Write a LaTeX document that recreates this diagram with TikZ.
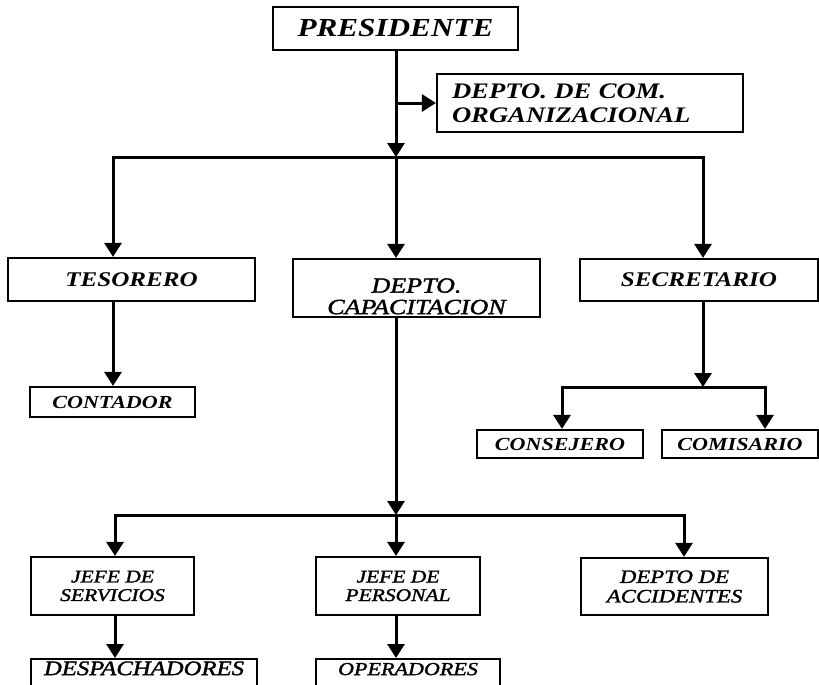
\documentclass[tikz,border=0pt]{standalone}
\usepackage{fontspec}
\setmainfont{Liberation Serif}[FakeStretch=1.2]
\newfontfamily\midfont{Liberation Serif}[FakeStretch=1.2, FakeBold=1.6]
\usetikzlibrary{arrows.meta}

\begin{document}
\begin{tikzpicture}[x=1pt, y=-1pt,
    box/.style={draw, line width=2.2pt, inner sep=0pt, align=center},
    boss/.style={box, font=\fontsize{26}{28}\selectfont\bfseries\itshape},
    chief/.style={box, font=\fontsize{20.9}{23}\selectfont\bfseries\itshape},
    aide/.style={box, font=\fontsize{18.4}{20}\selectfont\bfseries\itshape},
    dept/.style={box, font=\fontsize{21.7}{21.5}\selectfont\midfont\itshape},
    head/.style={box, font=\fontsize{17.9}{18.5}\selectfont\midfont\itshape},
    crew/.style={box, font=\fontsize{18.4}{20}\selectfont\midfont\itshape, anchor=north, inner ysep=4pt, text height=12pt, text depth=26pt},
    link/.style={line width=3pt},
    arr/.style={link, -{Triangle[width=17pt, length=14pt]}}]
    \useasboundingbox (0,0) rectangle (819,685);
    \clip (0,0) rectangle (819,685);

    \node[boss, minimum width=245pt, minimum height=43pt] (pres) at (395.5,28.5) {PRESIDENTE};
    \node[chief, font=\fontsize{22.2}{24}\selectfont\bfseries\itshape, align=left, text width=276pt, inner xsep=15pt, minimum height=58pt] (com) at (590,103) {DEPTO. DE COM.\\ORGANIZACIONAL};

    \node[chief, minimum width=247pt, minimum height=43pt] (tes) at (131.5,279.5) {TESORERO};
    \node[dept, minimum width=247pt, minimum height=58pt] (cap) at (416.5,288) {\rule{0pt}{31pt}DEPTO.\\CAPACITACION};
    \node[chief, minimum width=238pt, minimum height=42pt] (sec) at (699,280) {SECRETARIO};

    \node[aide, minimum width=165pt, minimum height=30pt] (cont) at (112.5,402) {CONTADOR};
    \node[aide, minimum width=166pt, minimum height=28pt] (cons) at (560,444) {CONSEJERO};
    \node[aide, minimum width=156pt, minimum height=28pt] (comi) at (740,444) {COMISARIO};

    \node[head, minimum width=163pt, minimum height=58pt] (jserv) at (112.5,586) {JEFE DE\\SERVICIOS};
    \node[head, minimum width=164pt, minimum height=58pt] (jpers) at (398,586) {JEFE DE\\PERSONAL};
    \node[head, font=\fontsize{19}{19.5}\selectfont\midfont\itshape, minimum width=187pt, minimum height=57pt] (acc) at (674.5,586.5) {DEPTO DE\\ACCIDENTES};

    \node[crew, font=\fontsize{20.6}{22}\selectfont\midfont\itshape, minimum width=226pt] (desp) at (144,658) {DESPACHADORES};
    \node[crew, minimum width=184pt] (oper) at (408,658) {OPERADORES};

    \coordinate (j1) at (396,157);
    \coordinate (busL) at (113,157);
    \coordinate (busR) at (703,157);
    \coordinate (j3) at (703,387);
    \coordinate (j3L) at (562,387);
    \coordinate (j3R) at (765,387);
    \coordinate (j2) at (396,515);
    \coordinate (j2L) at (115,515);
    \coordinate (j2R) at (684,515);

    \draw[arr] (pres.south -| j1) -- (j1);
    \draw[arr] (j1 |- com.west) -- (com.west);
    \draw[link, line cap=rect] (busL) -- (busR);
    \draw[link, line cap=rect] (j3L) -- (j3R);
    \draw[link, line cap=rect] (j2L) -- (j2R);
    \foreach \a/\b in {busL/tes, j1/cap, busR/sec, j3L/cons, j3R/comi, j2L/jserv, j2/jpers, j2R/acc}
        \draw[arr] (\a) -- (\a |- \b.north);
    \draw[arr] (busL |- tes.south) -- (busL |- cont.north);
    \draw[arr] (busR |- sec.south) -- (j3);
    \draw[arr] (j1 |- cap.south) -- (j2);
    \draw[arr] (j2L |- jserv.south) -- (j2L |- desp.north);
    \draw[arr] (j2 |- jpers.south) -- (j2 |- oper.north);
\end{tikzpicture}
\end{document}
